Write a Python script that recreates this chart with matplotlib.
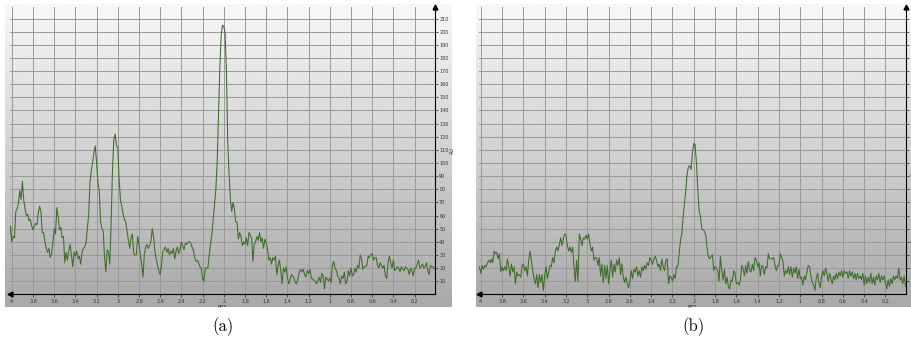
import numpy as np
import matplotlib.pyplot as plt

# spectra are evenly sampled, first point at 4.025 ppm, one point every 0.0125 ppm
ppm_first = 4.025
ppm_step = 0.0125

intensity_a = [
    41, 52,
    40, 44, 43, 63, 65, 69, 79, 72, 86, 72, 65, 60, 61, 56, 57, 52,
    49, 52, 54, 53, 62, 67, 63, 47, 47, 40, 35, 32, 35, 28, 31, 40,
    50, 46, 66, 59, 49, 51, 43, 44, 24, 32, 26, 33, 38, 30, 21, 32,
    29, 33, 27, 29, 23, 32, 35, 36, 39, 50, 60, 85, 94, 100, 108, 113,
    100, 85, 79, 55, 50, 48, 28, 17, 34, 32, 23, 55, 95, 118, 122, 113,
    112, 88, 72, 67, 61, 57, 55, 48, 41, 35, 43, 46, 31, 30, 30, 44,
    38, 30, 23, 13, 30, 36, 38, 35, 37, 40, 50, 44, 33, 27, 22, 18,
    15, 22, 33, 34, 36, 32, 35, 30, 33, 31, 35, 27, 33, 36, 31, 34,
    40, 37, 34, 39, 38, 40, 40, 39, 36, 34, 28, 25, 26, 24, 21, 20,
    12, 10, 20, 20, 20, 30, 38, 46, 57, 68, 80, 100, 135, 172, 197, 205,
    204, 199, 170, 115, 92, 72, 63, 70, 65, 55, 55, 42, 47, 44, 37, 40,
    38, 43, 37, 47, 45, 43, 25, 38, 40, 44, 41, 47, 40, 43, 35, 42,
    39, 35, 26, 28, 23, 28, 26, 29, 15, 22, 26, 18, 8, 20, 17, 21,
    13, 8, 11, 15, 14, 12, 9, 8, 12, 17, 19, 17, 19, 15, 13, 18,
    16, 19, 13, 11, 11, 10, 8, 10, 13, 9, 16, 14, 4, 13, 12, 10,
    12, 9, 22, 25, 20, 18, 14, 12, 8, 14, 12, 17, 8, 10, 18, 14,
    20, 14, 15, 20, 17, 22, 20, 30, 27, 19, 21, 21, 22, 29, 28, 30,
    31, 26, 28, 28, 22, 20, 24, 22, 20, 22, 14, 12, 24, 29, 24, 20,
    26, 18, 19, 21, 20, 17, 21, 19, 18, 21, 20, 19, 15, 20, 18, 14,
    20, 20, 23, 26, 20, 21, 23, 20, 21, 24, 18, 15, 22, 21, 21, 19,
]

intensity_b = [
    19, 21,
    16, 22, 19, 22, 21, 24, 26, 24, 27, 24, 33, 31, 32, 27, 31, 17,
    21, 18, 21, 18, 27, 21, 14, 23, 17, 21, 8, 17, 14, 15, 13, 22,
    23, 18, 21, 14, 26, 33, 26, 18, 12, 8, 15, 5, 15, 9, 15, 3,
    14, 21, 12, 17, 22, 21, 28, 24, 33, 36, 33, 38, 43, 37, 42, 46,
    45, 37, 33, 36, 32, 36, 21, 10, 26, 10, 46, 42, 37, 43, 42, 45,
    42, 46, 38, 33, 36, 26, 28, 28, 22, 28, 14, 23, 9, 22, 12, 22,
    8, 18, 26, 13, 23, 17, 26, 22, 28, 15, 23, 13, 9, 13, 8, 5,
    10, 18, 12, 19, 17, 21, 14, 18, 13, 21, 18, 22, 19, 24, 22, 28,
    26, 23, 27, 29, 26, 21, 23, 18, 27, 21, 18, 26, 27, 8, 14, 13,
    10, 15, 12, 21, 21, 31, 41, 46, 59, 69, 79, 92, 97, 98, 95, 108,
    115, 114, 100, 80, 64, 59, 50, 49, 48, 45, 35, 28, 27, 29, 30, 18,
    21, 20, 18, 10, 29, 18, 11, 19, 8, 13, 6, 4, 11, 10, 18, 16,
    8, 9, 7, 10, 22, 20, 14, 22, 16, 25, 18, 17, 23, 18, 28, 26,
    21, 24, 14, 22, 21, 15, 21, 20, 31, 27, 27, 27, 28, 22, 18, 22,
    22, 31, 28, 25, 14, 18, 16, 21, 15, 21, 13, 20, 16, 21, 12, 19,
    12, 13, 7, 14, 11, 17, 22, 21, 14, 9, 7, 3, 12, 16, 9, 5,
    14, 18, 14, 20, 16, 10, 16, 12, 8, 14, 11, 16, 12, 17, 14, 18,
    13, 18, 16, 17, 12, 18, 14, 17, 12, 16, 11, 16, 12, 14, 11, 16,
    7, 14, 8, 13, 9, 16, 8, 13, 7, 14, 11, 16, 9, 14, 11, 14,
    8, 4, 11, 6, 12, 8, 14, 11, 14, 12, 20, 11, 13, 8, 14, 6,
]

ppm_ticks = [4, 3.8, 3.6, 3.4, 3.2, 3, 2.8, 2.6, 2.4, 2.2, 2, 1.8, 1.6,
             1.4, 1.2, 1, 0.8, 0.6, 0.4, 0.2]
ppm_labels = ['4', '3.8', '3.6', '3.4', '3.2', '3', '2.8', '2.6', '2.4', '2.2',
              '2', '1.8', '1.6', '1.4', '1.2', '1', '0.8', '0.6', '0.4', '0.2']
au_ticks = [10, 20, 30, 40, 50, 60, 70, 80, 90, 100, 110,
            120, 130, 140, 150, 160, 170, 180, 190, 200, 210]
captions = ['(a)', '(b)']

W, H = 911, 343
fig = plt.figure(figsize=(W / 100, H / 100), dpi=100)


def rect(x0, y0, x1, y1):
    # pixel box (top-left origin) -> figure fraction
    return [x0 / W, 1 - y1 / H, (x1 - x0) / W, (y1 - y0) / H]


# screenshot box, plot area, caption centre (pixels)
layout = [
    ((5, 4, 452, 307), (10, 6.7, 434.7, 294.3), 223),
    ((476, 4, 911, 307), (479, 6.7, 905.7, 294.3), 693),
]

shade = np.linspace(0.97, 0.66, 256)[:, None]

for (bg_box, plot_box, cap_x), intensity, cap in zip(layout, [intensity_a, intensity_b], captions):
    bg = fig.add_axes(rect(*bg_box))
    bg.imshow(shade, cmap='gray', vmin=0, vmax=1, aspect='auto')
    bg.axis('off')

    ax = fig.add_axes(rect(*plot_box))
    ax.set_facecolor('none')
    ppm = ppm_first - ppm_step * np.arange(len(intensity))
    ax.plot(ppm, intensity, color='#3c6d2a', lw=0.75, zorder=3)

    ax.set_xlim(4.017, 0.01)
    ax.set_ylim(0, 219)
    ax.set_xticks(ppm_ticks)
    ax.set_xticklabels(ppm_labels)
    ax.set_yticks(au_ticks)
    ax.yaxis.tick_right()
    ax.yaxis.set_label_position('right')
    ax.set_axisbelow(True)
    ax.grid(True, color='#999999', lw=0.7)

    for side in ['left', 'top']:
        ax.spines[side].set_visible(False)
    for side in ['right', 'bottom']:
        ax.spines[side].set_color('black')
        ax.spines[side].set_linewidth(0.8)

    ax.tick_params(length=2, width=0.5, labelsize=3.5, pad=1.2,
                   colors='#222222', labelcolor='#333333')
    ax.set_xlabel('ppm', fontsize=3, labelpad=0.5, color='#333333')
    ax.set_ylabel('AU', fontsize=3.5, labelpad=1, color='#333333')

    # axis arrows
    ax.plot([1], [1], marker='^', color='black', ms=3.5,
            transform=ax.transAxes, clip_on=False)
    ax.plot([0], [0], marker='<', color='black', ms=3.5,
            transform=ax.transAxes, clip_on=False)

    fig.text(cap_x / W, 1 - 327 / H, cap, ha='center', va='center',
             fontsize=12, family='cmr10')

fig.savefig('out.png', dpi=100)
